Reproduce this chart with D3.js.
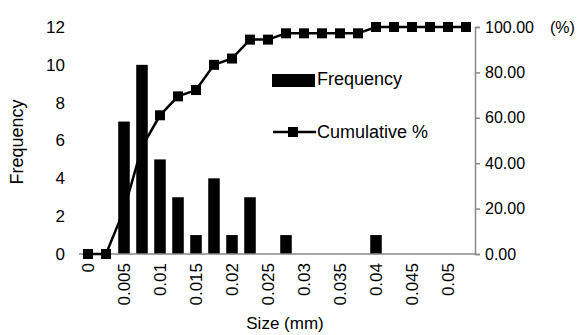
<!DOCTYPE html>
<html><head><meta charset="utf-8">
<script src="https://cdn.jsdelivr.net/npm/d3@7"></script>
<style>body{margin:0;background:#fff}svg{display:block}text{font-family:"Liberation Sans",Arial,sans-serif;fill:#000}</style>
</head><body><svg id="c" width="579" height="335"></svg>
<script>
const sizes = ["0","0.0025","0.005","0.0075","0.01","0.0125","0.015","0.0175","0.02","0.0225","0.025","0.0275","0.03","0.0325","0.035","0.0375","0.04","0.0425","0.045","0.0475","0.05","0.0525"];
const frequency = [0,0,7,10,5,3,1,4,1,3,0,1,0,0,0,0,1,0,0,0,0,0];
const cumulative = [0,0,19.44,47.22,61.11,69.44,72.22,83.33,86.11,94.44,94.44,97.22,97.22,97.22,97.22,97.22,100,100,100,100,100,100];
const tickLabels = ["0","0.005","0.01","0.015","0.02","0.025","0.03","0.035","0.04","0.045","0.05"];
const leftTicks = [0,2,4,6,8,10,12];
const rightTicks = [0,20,40,60,80,100];

const svg = d3.select("#c");
const L = 79, R = 475, T = 27, B = 254;
const x = d3.scaleBand().domain(sizes).range([L, R]).paddingInner(0.36).paddingOuter(0.18);
const y = d3.scaleLinear().domain([0,12]).range([B, T]);
const y2 = d3.scaleLinear().domain([0,100]).range([B, T]);
const cx = d => x(d) + x.bandwidth()/2;

// left axis labels
const la = svg.append("g").attr("transform",`translate(${L},0)`)
  .call(d3.axisLeft(y).tickValues(leftTicks).tickSize(0).tickPadding(14).tickFormat(d3.format("d")));
la.select(".domain").remove();
la.selectAll("text").style("font-size","17px").attr("font-family",null);

// right axis
const ra = svg.append("g").attr("transform",`translate(${R},0)`)
  .call(d3.axisRight(y2).tickValues(rightTicks).tickSize(5).tickPadding(5).tickFormat(d3.format(".2f")));
ra.select(".domain").attr("stroke","#888").attr("stroke-width",1.5);
ra.selectAll("line").attr("stroke","#888").attr("stroke-width",1.5);
ra.selectAll("text").style("font-size","16px").attr("font-family",null);

// bars
svg.append("g").selectAll("rect").data(sizes).join("rect")
  .attr("x", d => x(d)).attr("width", x.bandwidth())
  .attr("y", (d,i) => y(frequency[i])).attr("height", (d,i) => B - y(frequency[i]))
  .attr("fill","#000");

// x axis line
svg.append("line").attr("x1",L).attr("x2",R).attr("y1",B).attr("y2",B).attr("stroke","#888").attr("stroke-width",1.5);

// x labels
svg.append("g").selectAll("text").data(tickLabels).join("text")
  .attr("transform", d => `translate(${cx(d)+6},${B+9}) rotate(-90)`)
  .attr("text-anchor","end").style("font-size","17px").text(d => d);

// cumulative line
const line = d3.line().x((d,i) => cx(sizes[i])).y(d => y2(d));
svg.append("path").datum(cumulative).attr("d", line).attr("fill","none").attr("stroke","#000").attr("stroke-width",2.5);
svg.append("g").selectAll("rect").data(cumulative).join("rect")
  .attr("x",(d,i)=>cx(sizes[i])-5).attr("y",d=>y2(d)-5).attr("width",10).attr("height",10).attr("fill","#000");

// legend
svg.append("rect").attr("x",272).attr("y",74).attr("width",43).attr("height",13).attr("fill","#000");
svg.append("text").attr("x",317).attr("y",85).style("font-size","18px").text("Frequency");
svg.append("line").attr("x1",273).attr("x2",316).attr("y1",132).attr("y2",132).attr("stroke","#000").attr("stroke-width",2.5);
svg.append("rect").attr("x",288).attr("y",127).attr("width",10).attr("height",10).attr("fill","#000");
svg.append("text").attr("x",317).attr("y",138).style("font-size","18px").text("Cumulative %");

// titles
svg.append("text").attr("transform","translate(23,142) rotate(-90)").attr("text-anchor","middle").style("font-size","18px").text("Frequency");
svg.append("text").attr("x",285).attr("y",329).attr("text-anchor","middle").style("font-size","17px").text("Size (mm)");
svg.append("text").attr("x",550).attr("y",33).style("font-size","16px").text("(%)");
</script></body></html>
